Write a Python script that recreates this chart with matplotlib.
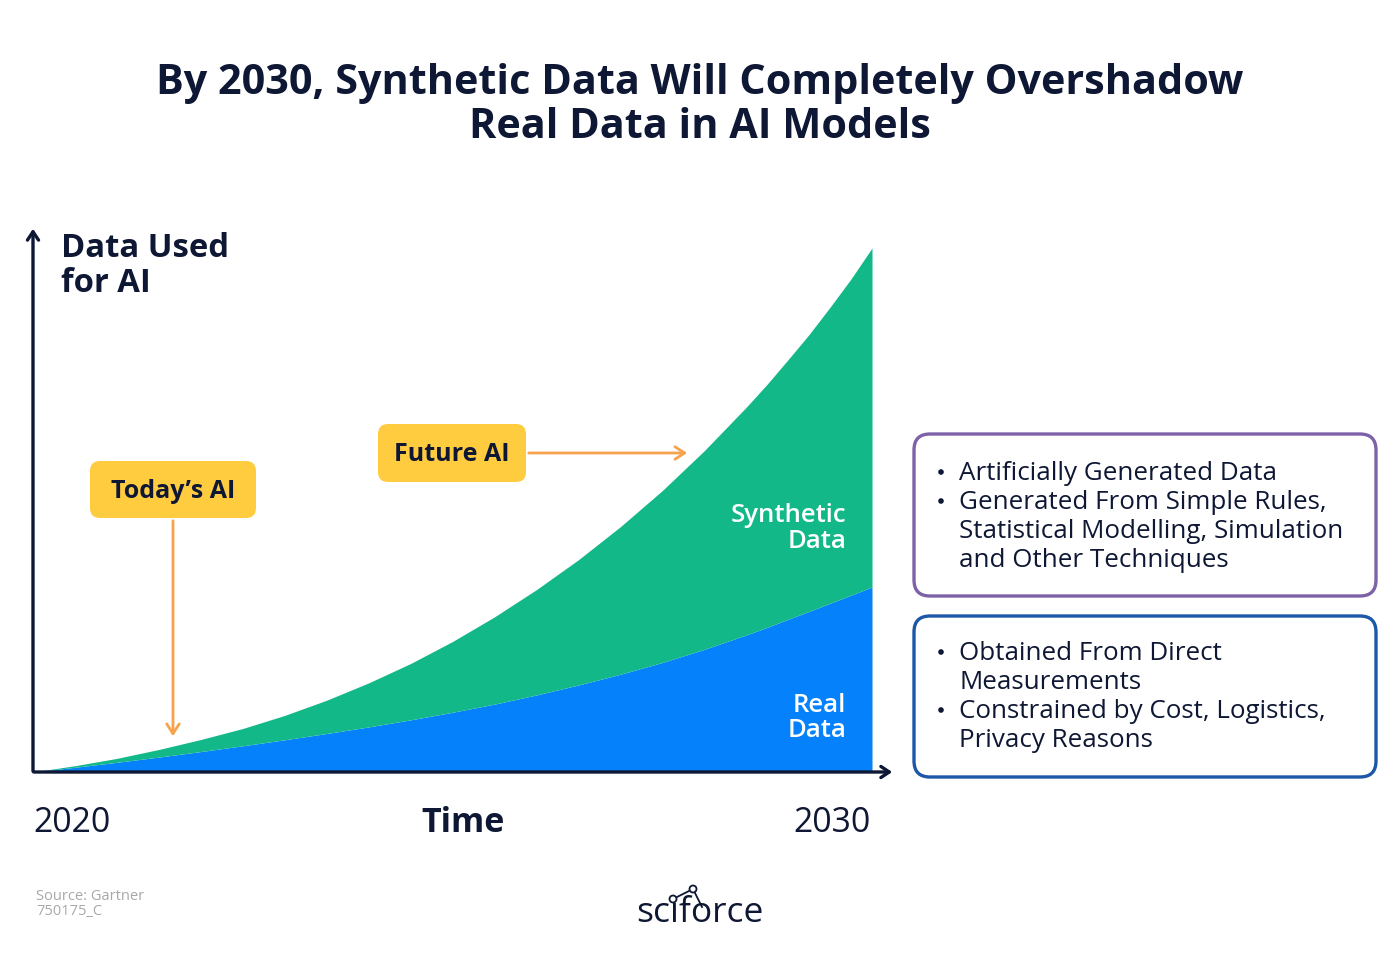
import matplotlib
matplotlib.use("Agg")
import matplotlib.pyplot as plt
from matplotlib.patches import FancyBboxPatch, Circle

# ---- data (arbitrary units, total at 2030 = 100) ----
years = [2020, 2020.5, 2021, 2021.5, 2022, 2022.5, 2023, 2023.5, 2024, 2024.5,
         2025, 2025.5, 2026, 2026.5, 2027, 2027.5, 2028, 2028.5, 2028.75, 2029,
         2029.25, 2029.5, 2029.75, 2030]
real_data = [0, 0.9, 1.85, 2.85, 3.9, 5.0, 6.15, 7.35, 8.6, 9.95,
             11.4, 12.95, 14.7, 16.6, 18.65, 20.9, 23.4, 26.15, 27.6, 29.15,
             30.65, 32.2, 33.75, 35.3]
total_data = [0, 1.2, 2.6, 4.3, 6.2, 8.3, 10.8, 13.7, 17.0, 20.7,
              24.9, 29.6, 34.8, 40.5, 46.8, 53.7, 61.3, 69.6, 74.0, 78.7,
              83.5, 88.7, 94.1, 100.0]
synthetic_data = [t - r for t, r in zip(total_data, real_data)]
x_tick_labels = ["2020", "2030"]

title_lines = ["By 2030, Synthetic Data Will Completely Overshadow",
               "Real Data in AI Models"]
synthetic_points = [["Artificially Generated Data"],
                    ["Generated From Simple Rules,", "Statistical Modelling, Simulation",
                     "and Other Techniques"]]
real_points = [["Obtained From Direct", "Measurements"],
               ["Constrained by Cost, Logistics,", "Privacy Reasons"]]

NAVY = "#0e1733"
GREEN = "#13b889"
BLUE = "#0582fb"
YELLOW = "#ffcc40"
ORANGE = "#f7a24c"
PURPLE = "#7d62a8"
DBLUE = "#1d57a8"
FONT = "Open Sans"

W, H = 1400, 980
fig = plt.figure(figsize=(W / 100, H / 100), dpi=100)
fig.patch.set_facecolor("white")

# main chart axes
x0, x1, yb, yt = 33, 872, 772, 228
ax = fig.add_axes([x0 / W, (H - yb) / H, (x1 - x0) / W, (yb - yt) / H])
ymax = (yb - yt) / (yb - 248) * 100
ax.set_xlim(2020, 2030)
ax.set_ylim(0, ymax)
ax.axis("off")
ax.fill_between(years, 0, real_data, color=BLUE, lw=0, zorder=2)
ax.fill_between(years, real_data, [r + s for r, s in zip(real_data, synthetic_data)],
                color=GREEN, lw=0, zorder=2)

# overlay axes in pixel coordinates (for layout elements), drawn above chart
ov = fig.add_axes([0, 0, 1, 1])
ov.set_zorder(5)
ov.set_xlim(0, W)
ov.set_ylim(H, 0)
ov.axis("off")

# axis arrows
ov.annotate("", xy=(33, 226), xytext=(33, 774),
            arrowprops=dict(arrowstyle="->,head_length=0.6,head_width=0.4", color=NAVY, lw=2.4),
            zorder=5)
ov.annotate("", xy=(895, 772), xytext=(31, 772),
            arrowprops=dict(arrowstyle="->,head_length=0.6,head_width=0.4", color=NAVY, lw=2.4),
            zorder=5)

# title
for line, base in zip(title_lines, [94, 138]):
    ov.text(700, base, line, ha="center", va="baseline", fontsize=29.8, fontweight="bold",
            color=NAVY, family=FONT)

# y axis label
ov.text(61, 257, "Data Used", ha="left", va="baseline", fontsize=23.6,
        fontweight="bold", color=NAVY, family=FONT)
ov.text(61, 292, "for AI", ha="left", va="baseline", fontsize=23.6,
        fontweight="bold", color=NAVY, family=FONT)

# x labels
ov.text(33, 832, x_tick_labels[0], ha="left", va="baseline", fontsize=24.3, color=NAVY, family=FONT)
ov.text(871, 832, x_tick_labels[1], ha="right", va="baseline", fontsize=24.3, color=NAVY, family=FONT)
ov.text(463, 832, "Time", ha="center", va="baseline", fontsize=24.5, fontweight="bold",
        color=NAVY, family=FONT)

# area labels
for txt, base in [("Synthetic", 522), ("Data", 548), ("Real", 712), ("Data", 737)]:
    ov.text(846, base, txt, ha="right", va="baseline", fontsize=18.5,
            fontweight="semibold", color="white", family=FONT, zorder=6)

# callout boxes
def callout(xl, yt_, w, h, label, base):
    p = FancyBboxPatch((xl + 10, yt_ + 10), w - 20, h - 20,
                       boxstyle="round,pad=10,rounding_size=10",
                       fc=YELLOW, ec="none", zorder=6)
    ov.add_patch(p)
    ov.text(xl + w / 2, base, label, ha="center", va="baseline", fontsize=18,
            fontweight="bold", color=NAVY, family=FONT, zorder=7)

callout(90, 461, 166, 57, "Today\u2019s AI", 498)
callout(378, 424, 148, 58, "Future AI", 461)

ov.annotate("", xy=(173, 739), xytext=(173, 518),
            arrowprops=dict(arrowstyle="->,head_length=0.7,head_width=0.45", color=ORANGE, lw=2),
            zorder=5)
ov.annotate("", xy=(690, 453), xytext=(526, 453),
            arrowprops=dict(arrowstyle="->,head_length=0.7,head_width=0.45", color=ORANGE, lw=2),
            zorder=5)

# right info boxes
def info_box(yt_, h, ec, items, first_base):
    p = FancyBboxPatch((914 + 14, yt_ + 14), 462 - 28, h - 28,
                       boxstyle="round,pad=14,rounding_size=16",
                       fc="white", ec=ec, lw=2.4, zorder=3)
    ov.add_patch(p)
    base = first_base
    for it in items:
        ov.add_patch(Circle((941, base - 8), 2.8, fc=NAVY, ec="none", zorder=4))
        for line in it:
            ov.text(959, base, line, ha="left", va="baseline", fontsize=18.7,
                    color=NAVY, family=FONT)
            base += 29

info_box(434, 162, PURPLE, synthetic_points, 480)
info_box(616, 161, DBLUE, real_points, 660)

# source
ov.text(36, 900, "Source: Gartner", ha="left", va="baseline", fontsize=10.5,
        color="#a8a8a8", family=FONT)
ov.text(36, 915, "750175_C", ha="left", va="baseline", fontsize=10.5,
        color="#a8a8a8", family=FONT)

# logo
ov.text(700, 922, "sciforce", ha="center", va="baseline", fontsize=25.5, color=NAVY,
        family=FONT)
ov.plot([673, 693], [899, 889], color=NAVY, lw=1.3, zorder=6)
ov.plot([693, 702], [889, 907], color=NAVY, lw=1.3, zorder=6)
for cx, cy, r in [(673, 899, 3.5), (693, 889, 3.5)]:
    ov.add_patch(Circle((cx, cy), r, fc="white", ec=NAVY, lw=1.3, zorder=7))

fig.savefig("out.png", dpi=100, facecolor="white")
